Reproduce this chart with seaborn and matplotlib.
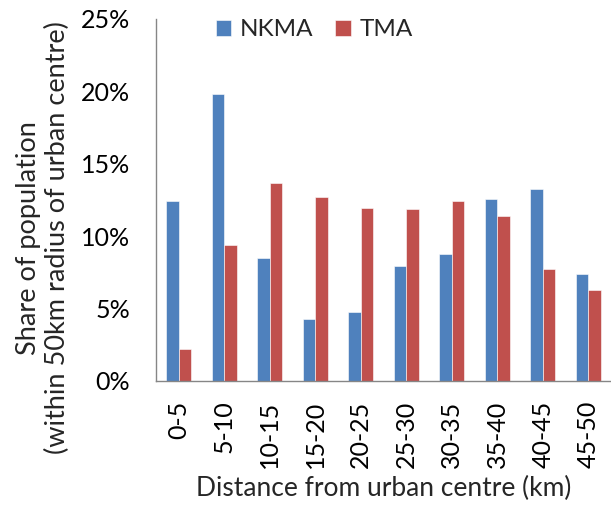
"""Share of population by distance from urban centre, NKMA vs TMA."""

import matplotlib

matplotlib.use("Agg")

import matplotlib.pyplot as plt
import pandas as pd
import seaborn as sns
from matplotlib.ticker import FixedLocator, PercentFormatter


distance_bands = ["0-5", "5-10", "10-15", "15-20", "20-25",
                  "25-30", "30-35", "35-40", "40-45", "45-50"]
nkma_share = [12.4, 19.8, 8.46, 4.26, 4.77, 7.97, 8.80, 12.56, 13.23, 7.37]
tma_share = [2.24, 9.42, 13.69, 12.70, 11.94, 11.87, 12.40, 11.38, 7.74, 6.29]
series_names = ["NKMA", "TMA"]
series_colours = ["#4F81BD", "#C0504D"]


def build_frame() -> pd.DataFrame:
    """Long-form table so seaborn can split the bars by series."""
    nkma = pd.DataFrame({"band": distance_bands, "share": nkma_share, "series": "NKMA"})
    tma = pd.DataFrame({"band": distance_bands, "share": tma_share, "series": "TMA"})
    return pd.concat([nkma, tma], ignore_index=True)


def main() -> None:
    sns.set_style("white")
    plt.rcParams["font.family"] = ["Lato", "DejaVu Sans"]
    frame = build_frame()

    fig = plt.figure(figsize=(6.11, 5.05), dpi=100)
    ax = fig.add_axes([156 / 611, 1 - 381 / 505, 455 / 611, 362 / 505])

    sns.barplot(
        data=frame,
        x="band",
        y="share",
        hue="series",
        hue_order=series_names,
        palette=series_colours,
        width=0.56,
        saturation=1,
        edgecolor="white",
        linewidth=0.4,
        ax=ax,
    )

    axis_grey = "#868686"
    ax.set_ylim(0, 25)
    ax.set_xlim(-0.5, len(distance_bands) - 0.5)
    ax.yaxis.set_major_locator(FixedLocator([0, 5, 10, 15, 20, 25]))
    ax.yaxis.set_major_formatter(PercentFormatter(decimals=0))
    ax.set_xticks(range(len(distance_bands)))
    ax.set_xticklabels(distance_bands, rotation=90)
    ax.set_xticks([i - 0.5 for i in range(len(distance_bands) + 1)], minor=True)
    ax.tick_params(axis="x", which="major", length=0, pad=14, labelsize=18, colors="black")
    ax.tick_params(axis="x", which="minor", length=5.5, width=1.0, color=axis_grey, direction="out")
    ax.tick_params(axis="y", length=5.5, width=1.0, color=axis_grey, direction="out",
                   labelsize=18, labelcolor="black", pad=13)

    sns.despine(ax=ax)
    for side in ("left", "bottom"):
        ax.spines[side].set_color(axis_grey)
        ax.spines[side].set_linewidth(1.0)

    ax.set_xlabel("Distance from urban centre (km)", fontsize=19, labelpad=6)
    ax.set_ylabel("Share of population\n(within 50km radius of urban centre)",
                  fontsize=19.5, linespacing=1.2)
    ax.yaxis.set_label_coords(-0.188, 0.395)

    ax.legend(
        loc="center left",
        bbox_to_anchor=(0.132, 0.97),
        ncol=2,
        frameon=False,
        fontsize=17.5,
        borderpad=0,
        borderaxespad=0,
        handlelength=0.62,
        handleheight=0.62,
        handletextpad=0.37,
        columnspacing=0.9,
        title=None,
    )

    fig.savefig("out.png", dpi=100)
    plt.close(fig)


if __name__ == "__main__":
    main()
